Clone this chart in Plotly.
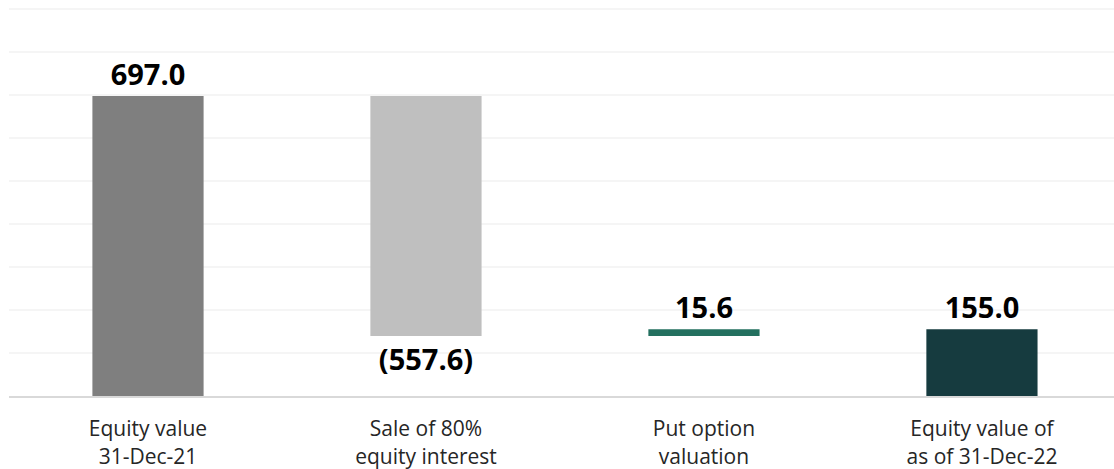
import plotly.graph_objects as go

# Equity bridge: opening value, movements, closing value
categories = ["Equity value<br>31-Dec-21", "Sale of 80%<br>equity interest",
              "Put option<br>valuation", "Equity value of<br>as of 31-Dec-22"]
opening_value = 697.0
movements = [-557.6, 15.6]
closing_value = 155.0

bar_colors = ["#7f7f7f", "#bfbfbf", "#23705f", "#163b3f"]


def fmt(v):
    return f"({abs(v):,.1f})" if v < 0 else f"{v:,.1f}"


# Build bases / heights for a floating-bar waterfall
heights = [opening_value]
bases = [0.0]
running = opening_value
for m in movements:
    bases.append(running)
    heights.append(m)
    running += m
bases.append(0.0)
heights.append(closing_value)

labels = [fmt(h) for h in heights]

fig = go.Figure(
    go.Bar(
        x=list(range(len(categories))),
        y=heights,
        base=bases,
        width=0.4,
        marker=dict(color=bar_colors, line=dict(width=0)),
        text=labels,
        textposition="outside",
        textfont=dict(family="Open Sans", size=29, color="#000000", weight="bold"),
        constraintext="none",
        cliponaxis=False,
        hoverinfo="skip",
    )
)

fig.update_layout(
    width=1114,
    height=469,
    margin=dict(l=9, r=0, t=0, b=73, autoexpand=False),
    paper_bgcolor="white",
    plot_bgcolor="white",
    showlegend=False,
    font=dict(family="Open Sans", color="#262626"),
    xaxis=dict(
        tickmode="array",
        tickvals=list(range(len(categories))),
        ticktext=categories,
        range=[-0.5, 3.475],
        tickfont=dict(size=21, color="#262626"),
        ticklabelstandoff=13,
        automargin=False,
        showgrid=False,
        showline=True,
        linecolor="#d9d9d9",
        linewidth=2,
        ticks="",
        zeroline=False,
    ),
    yaxis=dict(
        range=[0, 920],
        dtick=100,
        showticklabels=False,
        automargin=False,
        showgrid=True,
        gridcolor="#f5f5f5",
        gridwidth=1.5,
        zeroline=False,
        ticks="",
    ),
)

fig.write_html("out.html")
